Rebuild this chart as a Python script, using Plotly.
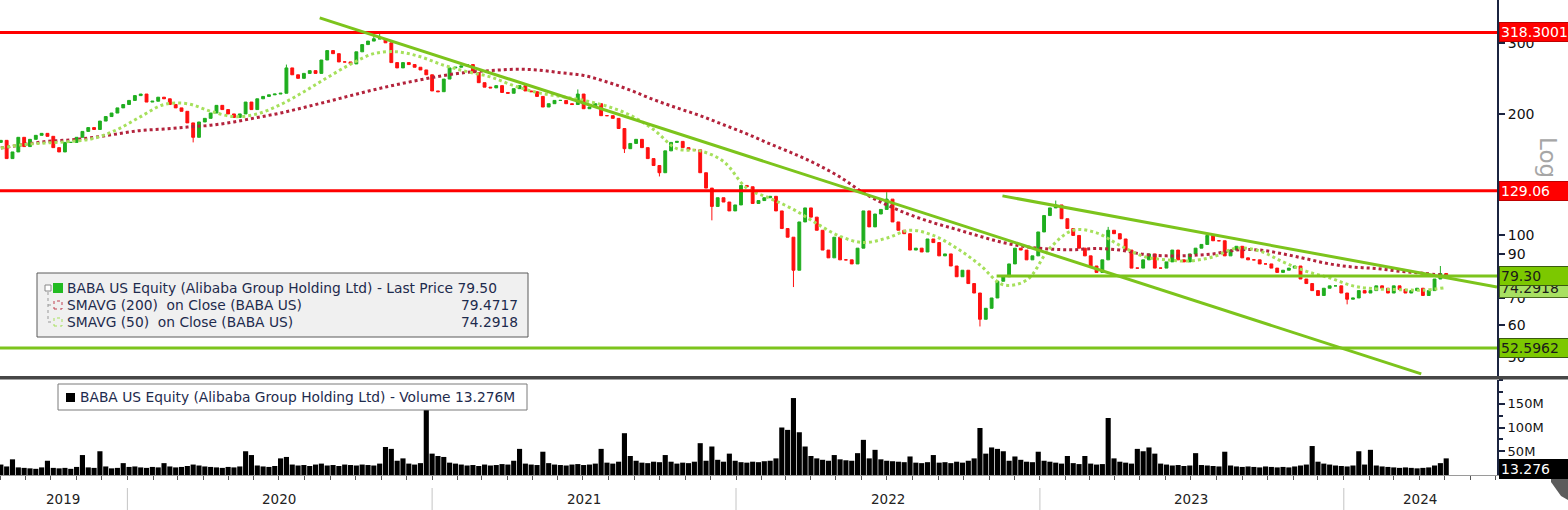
import math
import pandas as pd
import plotly.graph_objects as go

# ---------------- data ----------------
start_date = "2019-08-02"          # first weekly bar
x_range = ["2019-08-01", "2024-07-03"]

closes = [
    172, 155, 161, 175, 166, 173, 177, 179, 176, 165,
    161, 170, 170, 175, 181, 185, 183, 192, 197, 201,
    207, 211, 216, 222, 224, 214, 215, 220, 218, 211,
    207, 203, 190, 175, 191, 195, 201, 210, 205, 200,
    196, 200, 214, 205, 218, 221, 223, 224, 225, 260,
    250, 245, 252, 256, 252, 272, 287, 282, 269, 269,
    266, 285, 297, 303, 307, 307, 300, 268, 260, 268,
    265, 261, 257, 250, 228, 227, 244, 260, 261, 263,
    265, 253, 239, 233, 232, 235, 226, 225, 231, 235,
    228, 227, 221, 208, 212, 216, 216, 212, 211, 224,
    206, 208, 212, 198, 198, 195, 184, 164, 169, 173,
    165, 155, 149, 143, 162, 170, 171, 165, 163, 163,
    143, 131, 118, 124, 121, 115, 119, 133, 132, 120,
    122, 124, 125, 115, 104, 99, 82, 108, 117, 111,
    103, 92, 88, 99, 87, 87, 85, 93, 115, 105,
    113, 116, 123, 108, 103, 101, 92, 93, 91, 98,
    96, 89, 90, 84, 79, 82, 76, 72, 62, 66,
    70, 77, 79, 85, 93, 92, 87, 89, 102, 112,
    117, 119, 110, 104, 100, 93, 89, 84, 81, 87,
    103, 101, 98, 92, 83, 83, 87, 90, 83, 83,
    86, 92, 87, 86, 90, 93, 95, 100, 97, 97,
    89, 92, 94, 88, 87, 87, 85, 85, 83, 81,
    82, 83, 84, 78, 76, 73, 71, 74, 75, 75,
    72, 69.5, 70, 73, 72, 73, 75, 74, 72, 75,
    73.5, 72, 73, 74, 71, 73, 78, 80.5, 79.5,
]
first_open = 170.0
wick_lows = {33: 170, 107: 160, 113: 140, 122: 109, 136: 74.5, 168: 59.5, 231: 67.5}
wick_highs = {49: 265, 64: 312, 65: 318, 99: 230, 152: 128, 181: 122, 190: 105, 247: 84}

volume_m = [
    22, 18, 33, 16, 15, 14, 13, 16, 30, 15,
    14, 15, 13, 17, 42, 16, 15, 50, 18, 14,
    15, 25, 17, 18, 16, 15, 17, 16, 25, 18,
    16, 17, 19, 22, 20, 18, 17, 16, 15, 17,
    16, 18, 50, 42, 20, 18, 17, 19, 35, 38,
    22, 20, 21, 19, 22, 24, 20, 21, 19, 22,
    21, 20, 22, 21, 20, 24, 59, 55, 30, 35,
    24, 22, 25, 140, 45, 40, 38, 26, 24, 22,
    20, 21, 19, 22, 20, 21, 23, 22, 30, 55,
    24, 22, 21, 49, 25, 22, 21, 20, 22, 23,
    21, 22, 24, 55, 26, 24, 28, 88, 40, 30,
    26, 25, 28, 27, 42, 28, 24, 26, 25, 28,
    67, 30, 60, 32, 28, 45, 30, 27, 26, 28,
    27, 29, 30, 35, 100, 95, 162, 90, 60, 40,
    35, 32, 30, 42, 33, 31, 30, 46, 74, 35,
    53, 33, 30, 29, 28, 27, 39, 26, 25, 27,
    42, 26, 27, 25, 28, 26, 30, 35, 99, 45,
    58, 55, 50, 30, 39, 32, 28, 27, 49, 30,
    28, 26, 24, 40, 25, 23, 40, 24, 22, 23,
    120, 35, 28, 26, 24, 55, 50, 58, 45, 24,
    22, 20, 21, 19, 20, 46, 21, 20, 19, 18,
    49, 20, 18, 17, 18, 17, 16, 18, 17, 16,
    17, 16, 18, 20, 22, 61, 28, 24, 22, 20,
    19, 18, 20, 50, 22, 53, 20, 18, 17, 16,
    15, 16, 15, 14, 15, 16, 20, 25, 35,
]

# moving averages, one reading every 4 weeks
sma200 = [
    164.6, 168, 171, 172.5, 175, 178.5, 182, 183.5, 185.6, 187.5,
    191, 196, 201, 207.5, 214.5, 222, 229.5, 236.5, 243, 249,
    253.5, 256, 258, 257, 253, 249, 240, 229, 217, 207,
    198, 188, 178.5, 168.5, 159.5, 150, 139.5, 127.5, 119, 112.5,
    107.5, 103.5, 99.5, 96, 93.7, 92.5, 92.2, 92.8, 92, 89.8,
    89, 89.2, 90, 92, 92, 90, 87.5, 85, 83.5, 82.8,
    81.5, 80.6, 79.5,
]
sma50 = [
    164.6, 168, 169.5, 171, 174, 183, 197, 211, 212, 203,
    197, 200, 211, 227, 246, 265.5, 282, 285, 277, 264,
    254.5, 247, 235, 226, 221, 216, 209, 198.5, 183, 164,
    162, 152.5, 131, 123.5, 116, 107, 99.5, 96, 98.5, 103,
    100, 93, 84.5, 75.5, 77.5, 93, 103, 101.5, 94.5, 88.8,
    87, 86.5, 88.5, 93, 91.5, 86, 81.5, 78.5, 75, 73.7,
    73.4, 73.2, 74.3,
]

# drawn levels / trend lines
level_red = [318.3001, 129.06]
level_green = [52.5962]
support_start = "2022-11-10"
support_level = 79.30
trend_a_dates = ["2020-08-19", "2024-04-03"]
trend_a_values = [346, 45.4]
trend_b_dates = ["2022-11-17", "2024-07-03"]
trend_b_values = [125.3, 74.5]

price_ticks = [50, 60, 70, 80, 90, 100, 200, 300, 400]
price_tick_text = ["50", "60", "70", "", "90", "100", "200", "300", "400"]
vol_ticks = [50e6, 100e6, 150e6]
vol_tick_text = ["50M", "100M", "150M"]
year_labels = ["2019", "2020", "2021", "2022", "2023", "2024"]
year_label_dates = ["2019-10-16", "2020-07-01", "2021-07-02", "2022-07-02", "2023-07-02", "2024-04-02"]
year_bounds = ["2020-01-01", "2021-01-01", "2022-01-01", "2023-01-01", "2024-01-01"]

# ---------------- derived ----------------
n = len(closes)
week_dates = pd.date_range(start_date, periods=n, freq="7D")
sma_dates = week_dates[::4]
opens = [first_open] + closes[:-1]
highs = [max(o, c) for o, c in zip(opens, closes)]
lows = [min(o, c) for o, c in zip(opens, closes)]
for k, v in wick_lows.items():
    lows[k] = v
for k, v in wick_highs.items():
    highs[k] = v

W, H = 1568, 510
MR, MB = 71, 35
PW, PH = W - MR, H - MB


def PX(px):
    return px / PW


def PY(py):
    return (PH - py) / PH


GREEN = "#7cc41c"
RED = "#ff0000"
FONT = "DejaVu Sans"

fig = go.Figure()

fig.add_trace(go.Bar(x=week_dates, y=[v * 1e6 for v in volume_m], marker=dict(color="#000000", line=dict(width=0)),
                     xaxis="x", yaxis="y2", hoverinfo="skip"))

fig.add_trace(go.Scatter(x=sma_dates, y=sma200, mode="lines", line=dict(color="#b3233c", width=3, dash="dot", shape="spline"),
                         xaxis="x", yaxis="y"))
fig.add_trace(go.Scatter(x=sma_dates, y=sma50, mode="lines", line=dict(color="#a6e05c", width=3, dash="dot", shape="spline"),
                         xaxis="x", yaxis="y"))

fig.add_trace(go.Candlestick(x=week_dates, open=opens, high=highs, low=lows, close=closes,
                             increasing=dict(line=dict(color="#1fae1f", width=1), fillcolor="#1fae1f"),
                             decreasing=dict(line=dict(color="#ff1010", width=1), fillcolor="#ff1010"),
                             whiskerwidth=0, xaxis="x", yaxis="y"))

full_span = ["2019-07-01", "2024-08-01"]
for v in level_red:
    fig.add_trace(go.Scatter(x=full_span, y=[v, v], mode="lines", line=dict(color=RED, width=3), xaxis="x", yaxis="y"))
for v in level_green:
    fig.add_trace(go.Scatter(x=full_span, y=[v, v], mode="lines", line=dict(color=GREEN, width=3), xaxis="x", yaxis="y"))
fig.add_trace(go.Scatter(x=[support_start, full_span[1]], y=[support_level, support_level], mode="lines",
                         line=dict(color=GREEN, width=3), xaxis="x", yaxis="y"))
fig.add_trace(go.Scatter(x=trend_a_dates, y=trend_a_values, mode="lines", line=dict(color=GREEN, width=3), xaxis="x", yaxis="y"))
fig.add_trace(go.Scatter(x=trend_b_dates, y=trend_b_values, mode="lines", line=dict(color=GREEN, width=3), xaxis="x", yaxis="y"))

shapes = []
annotations = []

# separator between panels
shapes.append(dict(type="rect", xref="paper", yref="paper", x0=0, x1=W / PW, y0=PY(379.5), y1=PY(376),
                   fillcolor="#474747", line=dict(width=0), layer="above"))


def value_label(val, txt, fill, fc, yref, border):
    annotations.append(dict(xref="paper", yref=yref, x=1, y=val, xanchor="left", yanchor="middle",
                            xshift=2, showarrow=False,
                            text=txt + "&nbsp;" * 6, align="left", borderpad=1,
                            bgcolor=fill, bordercolor=border, borderwidth=1,
                            font=dict(family=FONT, size=14, color=fc)))


# right-hand value labels
right_labels = [
    (318.3001, "318.3001", RED, "white", "#c00000"),
    (129.06, "129.06", RED, "white", "#c00000"),
    (74.2918, "74.2918", "#a8e062", "#1a1a1a", "#4a6a20"),
    (79.30, "79.30", "#7cc800", "#1a1a1a", "#3a5a10"),
    (52.5962, "52.5962", "#7cc800", "#1a1a1a", "#3a5a10"),
]
for val, txt, fill, fc, border in right_labels:
    value_label(math.log10(val), txt, fill, fc, "y", border)

# volume last-value label
vol_last = 13.276e6
value_label(vol_last, "13.276", "#000000", "white", "y2", "#000000")

# gray UI element bottom-right
shapes.append(dict(type="path", xref="paper", yref="paper",
                   path=f"M{PX(1551)},{PY(459)} L{PX(1568)},{PY(459)} L{PX(1568)},{PY(500)} L{PX(1561)},{PY(496)} L{PX(1551)},{PY(482)} Z",
                   fillcolor="#5c5c5c", line=dict(width=0), layer="above"))
shapes.append(dict(type="circle", xref="paper", yref="paper", x0=PX(1556), x1=PX(1567), y0=PY(473), y1=PY(462),
                   line=dict(color="#e8e8e8", width=1.5), fillcolor="#5c5c5c", layer="above"))
shapes.append(dict(type="line", xref="paper", yref="paper", x0=PX(1558.5), x1=PX(1564.5), y0=PY(467.5), y1=PY(467.5),
                   line=dict(color="#e8e8e8", width=1.5), layer="above"))

# "Log" label
annotations.append(dict(xref="paper", yref="paper", x=PX(1548), y=PY(158), text="Log", textangle=90, showarrow=False,
                        font=dict(family=FONT, size=23, color="#a6a6a6"), xanchor="center", yanchor="middle"))

# price legend box
shapes.append(dict(type="rect", xref="paper", yref="paper", x0=PX(37), x1=PX(528), y0=PY(337), y1=PY(273),
                   fillcolor="#f0f0f0", line=dict(color="#5a5a5a", width=1), layer="above"))
shapes.append(dict(type="rect", xref="paper", yref="paper", x0=PX(45), x1=PX(51), y0=PY(291), y1=PY(285),
                   fillcolor="#ffffff", line=dict(color="#888888", width=1), layer="above"))
shapes.append(dict(type="line", xref="paper", yref="paper", x0=PX(48), x1=PX(48), y0=PY(292), y1=PY(322),
                   line=dict(color="#999999", width=1, dash="dot"), layer="above"))
for yy in (305, 322):
    shapes.append(dict(type="line", xref="paper", yref="paper", x0=PX(48), x1=PX(53), y0=PY(yy), y1=PY(yy),
                       line=dict(color="#999999", width=1, dash="dot"), layer="above"))
shapes.append(dict(type="rect", xref="paper", yref="paper", x0=PX(53), x1=PX(63), y0=PY(293), y1=PY(283),
                   fillcolor="#22bb22", line=dict(width=0), layer="above"))
shapes.append(dict(type="rect", xref="paper", yref="paper", x0=PX(54), x1=PX(62), y0=PY(309), y1=PY(301),
                   fillcolor="rgba(0,0,0,0)", line=dict(color="#c04050", width=1, dash="dot"), layer="above"))
shapes.append(dict(type="rect", xref="paper", yref="paper", x0=PX(54), x1=PX(62), y0=PY(326), y1=PY(318),
                   fillcolor="rgba(0,0,0,0)", line=dict(color="#a6e05c", width=1, dash="dot"), layer="above"))

legend_rows = [
    ("BABA US Equity (Alibaba Group Holding Ltd) - Last Price 79.50", ""),
    ("SMAVG (200)  on Close (BABA US)", "79.4717"),
    ("SMAVG (50)  on Close (BABA US)", "74.2918"),
]
legend_y = [288, 305, 322]
LEG_COLOR = "#1e2b4d"
LEG_SIZE = 13.8
for (label, val), yy in zip(legend_rows, legend_y):
    annotations.append(dict(xref="paper", yref="paper", x=PX(65), y=PY(yy), xanchor="left", yanchor="middle",
                            text=label.replace("  ", "&nbsp; "), showarrow=False,
                            font=dict(family=FONT, size=LEG_SIZE, color=LEG_COLOR)))
    if val:
        annotations.append(dict(xref="paper", yref="paper", x=PX(520), y=PY(yy), xanchor="right", yanchor="middle",
                                text=val, showarrow=False, font=dict(family=FONT, size=LEG_SIZE, color=LEG_COLOR)))

# volume legend box
shapes.append(dict(type="rect", xref="paper", yref="paper", x0=PX(58), x1=PX(527), y0=PY(410), y1=PY(384),
                   fillcolor="#ffffff", line=dict(color="#7a7a7a", width=1), layer="above"))
shapes.append(dict(type="rect", xref="paper", yref="paper", x0=PX(66), x1=PX(75), y0=PY(402), y1=PY(393),
                   fillcolor="#000000", line=dict(width=0), layer="above"))
annotations.append(dict(xref="paper", yref="paper", x=PX(78), y=PY(397), xanchor="left", yanchor="middle",
                        text="BABA US Equity (Alibaba Group Holding Ltd) - Volume 13.276M", showarrow=False,
                        font=dict(family=FONT, size=LEG_SIZE, color=LEG_COLOR)))

# year separators and labels
for d in year_bounds:
    shapes.append(dict(type="line", xref="x", yref="paper", x0=d, x1=d, y0=PY(488), y1=PY(510),
                       line=dict(color="#c4c4c4", width=1)))
for lab, d in zip(year_labels, year_label_dates):
    annotations.append(dict(xref="x", yref="paper", x=d, y=PY(499), text=lab, showarrow=False,
                            xanchor="center", yanchor="middle", font=dict(family=FONT, size=13.5, color="#222222")))

AX = "#1b2440"
fig.update_layout(
    width=W, height=H, margin=dict(l=0, r=MR, t=0, b=MB),
    paper_bgcolor="white", plot_bgcolor="white", showlegend=False, bargap=0.12,
    xaxis=dict(type="date", range=x_range, anchor="y2", domain=[0, 1], rangeslider=dict(visible=False),
               showgrid=False, showticklabels=False, ticks="outside", ticklen=4, tickcolor="#555555",
               dtick="M1", tick0="2019-08-01", showline=True, linecolor="#9a9a9a", linewidth=1, zeroline=False),
    yaxis=dict(type="log", range=[math.log10(44.6), math.log10(383)], domain=[PY(377), 1], anchor="x", side="right",
               showgrid=False, zeroline=False, tickvals=price_ticks, ticktext=price_tick_text,
               ticks="outside", ticklen=6, tickwidth=2, tickcolor=AX, showline=True, linecolor=AX, linewidth=2,
               tickfont=dict(family=FONT, size=14, color="#111111")),
    yaxis2=dict(range=[0, 200e6], domain=[0, PY(380)], anchor="x", side="right", showgrid=False, zeroline=False,
                tickvals=vol_ticks, ticktext=vol_tick_text, ticks="outside", ticklen=6, tickwidth=2, tickcolor=AX,
                minor=dict(dtick=25e6, ticks="outside", ticklen=4, tickcolor=AX),
                showline=True, linecolor=AX, linewidth=2, tickfont=dict(family=FONT, size=13, color="#111111")),
    shapes=shapes, annotations=annotations,
)

fig.write_html("out.html", config={"displayModeBar": False},
               post_script="document.body.style.margin='0';document.body.style.overflow='hidden';")
